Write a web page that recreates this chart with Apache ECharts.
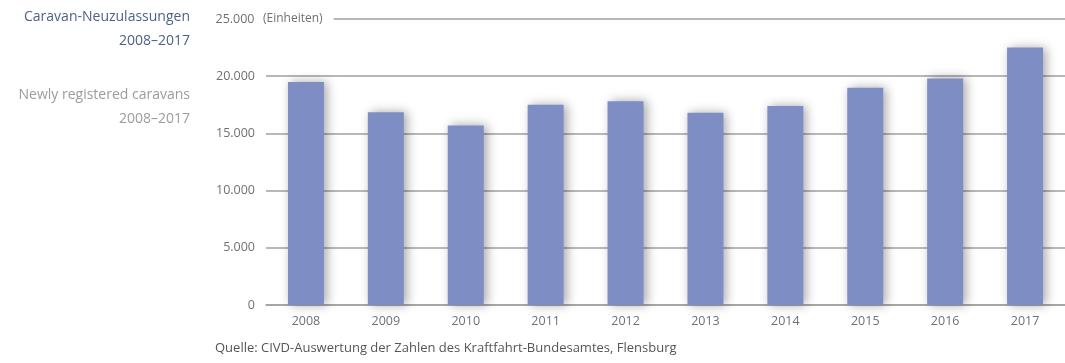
<!DOCTYPE html>
<html><head><meta charset="utf-8">
<script src="https://cdn.jsdelivr.net/npm/echarts@6/dist/echarts.min.js"></script>
<style>html,body{margin:0;padding:0;background:#fff}#c{width:1065px;height:363px}</style>
</head><body><div id="c"></div>
<script>
const years = ['2008','2009','2010','2011','2012','2013','2014','2015','2016','2017'];
const registrations = [19500, 16850, 15700, 17500, 17800, 16800, 17400, 19000, 19800, 22500];
const yTicks = [0, 5000, 10000, 15000, 20000, 25000];
const unitLabel = '(Einheiten)';
const titleDe = ['Caravan-Neuzulassungen', '2008–2017'];
const titleEn = ['Newly registered caravans', '2008–2017'];
const source = 'Quelle: CIVD-Auswertung der Zahlen des Kraftfahrt-Bundesamtes, Flensburg';

const fmt = v => v.toLocaleString('de-DE');
const FONT = '"Open Sans", sans-serif';
const LBL = '#707070';
const chart = echarts.init(document.getElementById('c'), null, {renderer: 'canvas'});

const titleLines = [];
titleDe.forEach((t, i) => titleLines.push({type: 'text', right: 875, top: 10 + i * 24, style: {text: t, fill: '#4d6286', font: '14px ' + FONT}}));
titleEn.forEach((t, i) => titleLines.push({type: 'text', right: 875, top: 88 + i * 24, style: {text: t, fill: '#9c9c9c', font: '14px ' + FONT}}));

chart.setOption({
  animation: false,
  textStyle: {fontFamily: FONT},
  grid: {left: 266, top: 19, width: 808, bottom: 58, containLabel: false},
  xAxis: {
    type: 'category', data: years,
    axisLine: {lineStyle: {color: '#a0a0a0', width: 1.5}},
    axisTick: {show: false},
    axisLabel: {color: LBL, fontSize: 12.5, margin: 10, fontFamily: FONT}
  },
  yAxis: {
    type: 'value', min: yTicks[0], max: yTicks[yTicks.length - 1], interval: yTicks[1] - yTicks[0],
    axisLine: {show: false}, axisTick: {show: false},
    splitLine: {lineStyle: {color: '#a0a0a0', width: 1.5}},
    axisLabel: {
      align: 'left', margin: 51, color: LBL, fontSize: 12.5, fontFamily: FONT,
      formatter: v => v === yTicks[yTicks.length - 1]
        ? '{v|' + fmt(v) + '}{u|' + unitLabel + '}'
        : '{v|' + fmt(v) + '}',
      rich: {
        v: {width: 40, align: 'right', color: LBL, fontSize: 12.5, fontFamily: FONT},
        u: {color: LBL, fontSize: 12, fontFamily: FONT, backgroundColor: '#fff', padding: [2, 11, 2, 8]}
      }
    }
  },
  series: [{
    type: 'bar', data: registrations, barWidth: 36,
    itemStyle: {color: '#7e8ec5', shadowColor: 'rgba(0,0,0,0.35)', shadowBlur: 10, shadowOffsetX: 3}
  }],
  graphic: titleLines.concat([
    {type: 'text', left: 215, top: 342, style: {text: source, fill: '#555', font: '13px ' + FONT}}
  ])
});
</script></body></html>
